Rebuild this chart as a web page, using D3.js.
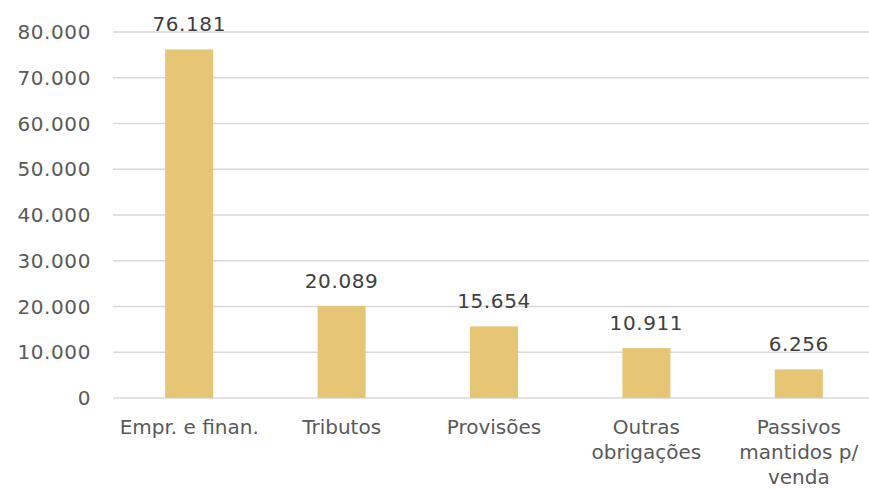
<!DOCTYPE html>
<html>
<head>
<meta charset="utf-8">
<script src="https://cdn.jsdelivr.net/npm/d3@7"></script>
<style>
  body { margin: 0; background: #fff; }
  svg { display: block; }
</style>
</head>
<body>
<script>
const categories = [
  ["Empr. e finan."],
  ["Tributos"],
  ["Provisões"],
  ["Outras", "obrigações"],
  ["Passivos", "mantidos p/", "venda"]
];
const values = [76181, 20089, 15654, 10911, 6256];
const yTicks = [0, 10000, 20000, 30000, 40000, 50000, 60000, 70000, 80000];

const width = 869;
const height = 489;
const font = "DejaVu Sans";

const fmt = v => d3.format(",")(v).replace(/,/g, ".");

const x = d3.scaleBand()
  .domain(d3.range(categories.length))
  .range([113, 875]);

const y = d3.scaleLinear()
  .domain([0, 80000])
  .range([398, 32]);

const barW = x.bandwidth() * 0.315;

const svg = d3.create("svg")
  .attr("width", width)
  .attr("height", height)
  .attr("viewBox", [0, 0, width, height]);

// gridlines
svg.append("g")
  .selectAll("line")
  .data(yTicks)
  .join("line")
  .attr("x1", 113)
  .attr("x2", width)
  .attr("y1", d => y(d))
  .attr("y2", d => y(d))
  .attr("stroke", "#d9d9d9")
  .attr("stroke-width", 1.5);

// y tick labels
svg.append("g")
  .selectAll("text")
  .data(yTicks)
  .join("text")
  .attr("x", 91)
  .attr("y", d => y(d) + 7)
  .attr("text-anchor", "end")
  .attr("font-family", font)
  .attr("font-size", 20)
  .attr("letter-spacing", 0.6)
  .attr("fill", "#595959")
  .text(d => fmt(d));

// bars
svg.append("g")
  .selectAll("rect")
  .data(values)
  .join("rect")
  .attr("x", (d, i) => x(i) + x.bandwidth() / 2 - barW / 2)
  .attr("y", d => y(d))
  .attr("width", barW)
  .attr("height", d => y(0) - y(d))
  .attr("fill", "#e6c574");

// value labels
svg.append("g")
  .selectAll("text")
  .data(values)
  .join("text")
  .attr("x", (d, i) => x(i) + x.bandwidth() / 2)
  .attr("y", d => y(d) - 18)
  .attr("text-anchor", "middle")
  .attr("font-family", font)
  .attr("font-size", 20)
  .attr("letter-spacing", 0.6)
  .attr("fill", "#404040")
  .text(d => fmt(d));

// category labels
const cat = svg.append("g")
  .selectAll("text")
  .data(categories)
  .join("text")
  .attr("x", (d, i) => x(i) + x.bandwidth() / 2)
  .attr("y", 434)
  .attr("text-anchor", "middle")
  .attr("font-family", font)
  .attr("font-size", 20)
  .attr("fill", "#595959");

cat.selectAll("tspan")
  .data((d, i) => d.map(t => ({ t, i })))
  .join("tspan")
  .attr("x", d => x(d.i) + x.bandwidth() / 2)
  .attr("dy", (d, j) => j === 0 ? 0 : 25)
  .text(d => d.t);

document.body.appendChild(svg.node());
</script>
</body>
</html>
